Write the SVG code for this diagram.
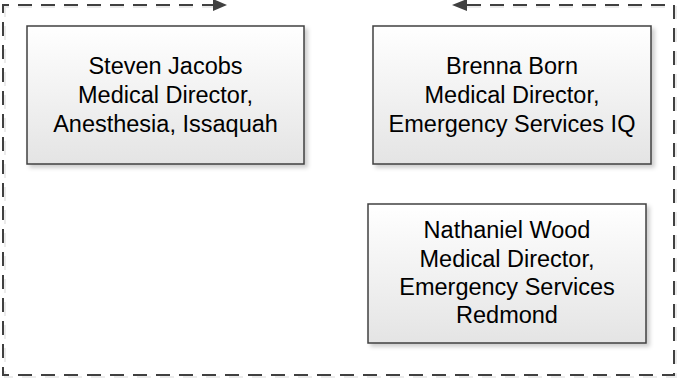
<svg xmlns="http://www.w3.org/2000/svg" width="677" height="380" viewBox="0 0 677 380">
  <style>
    .box { fill: url(#g); stroke: #404040; stroke-width: 1.5; filter: url(#sh); }
    .lbl { font-family: "Liberation Sans", Arial, sans-serif; font-size: 23.5px; fill: #000; text-anchor: middle; }
    .conn { fill: none; stroke: #404040; stroke-width: 2; stroke-dasharray: 14 9; }
    .connsh { fill: none; stroke: #000; stroke-opacity: 0.08; stroke-width: 2; stroke-dasharray: 14 9; }
    .head { fill: #404040; }
  </style>
  <defs>
    <linearGradient id="g" x1="0" y1="0" x2="0" y2="1">
      <stop offset="0" stop-color="#ffffff"/>
      <stop offset="1" stop-color="#e4e4e4"/>
    </linearGradient>
    <filter id="sh" x="-10%" y="-10%" width="125%" height="130%">
      <feDropShadow dx="3" dy="3" stdDeviation="2" flood-color="#000" flood-opacity="0.2"/>
    </filter>
  </defs>
  <rect width="677" height="380" fill="#ffffff"/>
  <g id="connectors">
    <path class="connsh" d="M467,7 L676,7 L676,377 L5,377 L5,7 L213,7"/>
    <path class="conn" d="M467,5 L674,5 L674,375 L3,375 L3,5 L213,5"/>
    <path class="head" d="M227,5 L213,-1 L213,11 Z"/>
    <path class="head" d="M452,5 L467,-1 L467,11 Z"/>
  </g>
  <g id="steven-jacobs">
    <rect class="box" x="27" y="26" width="277" height="138"/>
    <text class="lbl" x="165.5" y="74">Steven Jacobs</text>
    <text class="lbl" x="165.5" y="103">Medical Director,</text>
    <text class="lbl" x="165.5" y="132">Anesthesia, Issaquah</text>
  </g>
  <g id="brenna-born">
    <rect class="box" x="373" y="26" width="278" height="138"/>
    <text class="lbl" x="512" y="74">Brenna Born</text>
    <text class="lbl" x="512" y="103">Medical Director,</text>
    <text class="lbl" x="512" y="132">Emergency Services IQ</text>
  </g>
  <g id="nathaniel-wood">
    <rect class="box" x="368" y="204" width="278" height="139"/>
    <text class="lbl" x="507" y="238">Nathaniel Wood</text>
    <text class="lbl" x="507" y="267">Medical Director,</text>
    <text class="lbl" x="507" y="295">Emergency Services</text>
    <text class="lbl" x="507" y="323">Redmond</text>
  </g>
</svg>
